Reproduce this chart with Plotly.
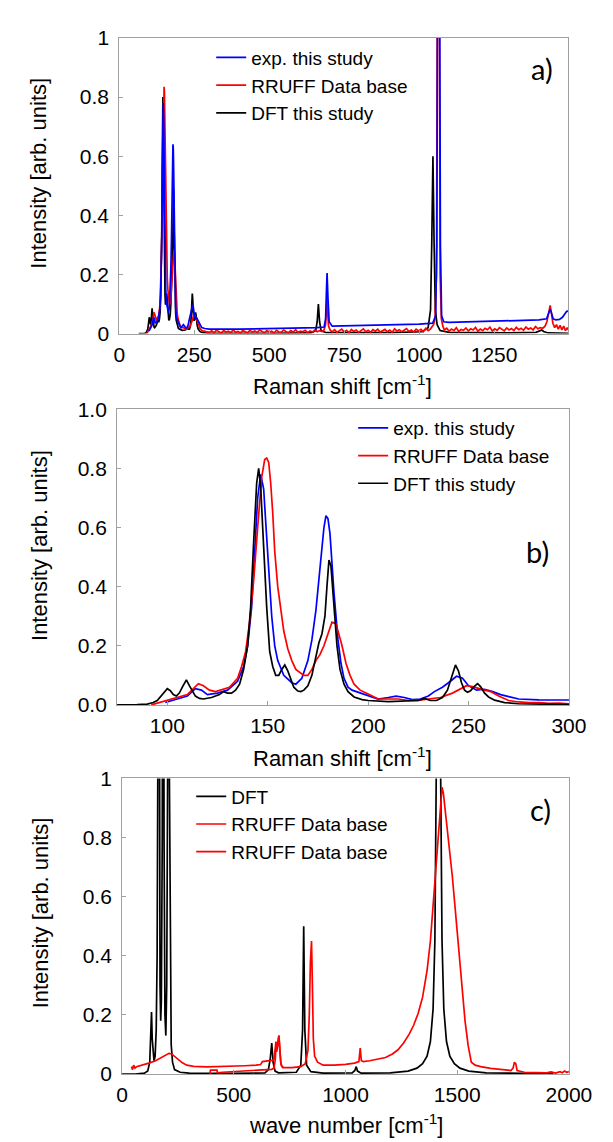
import plotly.graph_objects as go

# ---------------- data ----------------
# Panels a) and b): Raman shift [cm-1], intensity [arb. units]
exp_pts = [
    (99, 0.008), (105, 0.02), (110, 0.03), (114, 0.055), (117, 0.05), (120, 0.035),
    (125, 0.04), (130, 0.05), (135, 0.08), (138, 0.13), (140, 0.2), (142, 0.33),
    (143, 0.45), (144, 0.58), (145, 0.7), (146.5, 0.78), (148, 0.73), (149, 0.62),
    (150, 0.5), (151, 0.4), (152, 0.3), (153.5, 0.2), (155, 0.15), (158, 0.1),
    (162, 0.075), (164, 0.07), (167, 0.09), (170, 0.15), (172, 0.22), (174, 0.32),
    (176, 0.47), (178, 0.6), (179, 0.64), (180, 0.63), (181, 0.58), (182, 0.48),
    (183, 0.38), (185, 0.22), (186.5, 0.14), (188, 0.09), (190, 0.06), (192, 0.05),
    (196, 0.04), (200, 0.03), (205, 0.02), (210, 0.025), (214, 0.03), (218, 0.025),
    (222, 0.018), (226, 0.02), (230, 0.03), (233, 0.045), (237, 0.06), (241, 0.08),
    (244, 0.097), (247, 0.09), (250, 0.065), (254, 0.05), (258, 0.053), (262, 0.045),
    (266, 0.035), (270, 0.028), (275, 0.02), (285, 0.017), (300, 0.015), (400, 0.015),
    (500, 0.016), (600, 0.018), (660, 0.02), (683, 0.022), (688, 0.05), (691, 0.15),
    (693, 0.205), (696, 0.12), (700, 0.04), (710, 0.025), (800, 0.027), (900, 0.029),
    (1000, 0.032), (1045, 0.035), (1055, 0.06), (1059, 0.3), (1062, 1.3), (1068, 1.3),
    (1071, 0.3), (1075, 0.06), (1082, 0.04), (1100, 0.038), (1200, 0.04), (1300, 0.042),
    (1400, 0.046), (1425, 0.05), (1432, 0.07), (1437, 0.083), (1441, 0.07), (1447, 0.05),
    (1456, 0.046), (1468, 0.048), (1478, 0.055), (1486, 0.068), (1492, 0.075), (1498, 0.076),
]

rruff_pts = [
    (92, 0.0), (96, 0.008), (100, 0.015), (105, 0.025), (110, 0.035), (113, 0.055),
    (115.5, 0.072), (118, 0.065), (121, 0.05), (124, 0.045), (126, 0.05), (129, 0.055),
    (131, 0.06), (133, 0.075), (135, 0.09), (137, 0.13), (139, 0.18), (141, 0.28),
    (143, 0.42), (145, 0.6), (147, 0.77), (148.5, 0.83), (149.5, 0.835), (150.5, 0.82),
    (151.5, 0.75), (152.5, 0.65), (153.5, 0.52), (155, 0.4), (156.5, 0.32), (158, 0.25),
    (160, 0.19), (162, 0.15), (164, 0.12), (166, 0.11), (168, 0.1), (170, 0.1),
    (172, 0.12), (174, 0.15), (176, 0.17), (178, 0.2), (180, 0.24), (182, 0.28),
    (184, 0.275), (185.5, 0.24), (187, 0.2), (189, 0.14), (191, 0.1), (193, 0.07),
    (196, 0.05), (199, 0.04), (202, 0.03), (205, 0.02), (210, 0.02), (215, 0.02),
    (220, 0.015), (225, 0.015), (230, 0.02), (236, 0.025), (242, 0.04), (246, 0.055),
    (249, 0.065), (252, 0.062), (255, 0.055), (258, 0.05), (261, 0.045), (265, 0.03),
    (270, 0.015), (275, 0.01), (280, 0.008), (285, 0.008), (290, 0.005), (295, 0.006),
    (300, 0.004), (308, 0.009), (316, 0.003), (324, 0.011), (332, 0.006), (340, 0.002),
    (348, 0.010), (356, 0.005), (364, 0.008), (372, 0.003), (380, 0.012), (388, 0.004),
    (396, 0.007), (404, 0.002), (412, 0.010), (420, 0.006), (428, 0.003), (436, 0.011),
    (444, 0.005), (452, 0.009), (460, 0.004), (468, 0.012), (476, 0.006), (484, 0.003),
    (492, 0.010), (500, 0.005), (508, 0.008), (516, 0.002), (524, 0.011), (532, 0.006),
    (540, 0.004), (548, 0.012), (556, 0.007), (564, 0.003), (572, 0.010), (580, 0.005),
    (588, 0.013), (596, 0.004), (604, 0.008), (612, 0.006), (620, 0.011), (628, 0.003),
    (636, 0.009), (644, 0.005), (652, 0.012), (660, 0.006), (668, 0.010), (676, 0.007),
    (682, 0.01), (688, 0.03), (691, 0.08), (693, 0.12), (695, 0.07), (698, 0.025),
    (703, 0.012), (710, 0.006), (718, 0.013), (726, 0.004), (734, 0.010), (742, 0.015),
    (750, 0.005), (758, 0.011), (766, 0.003), (774, 0.014), (782, 0.007), (790, 0.012),
    (798, 0.004), (806, 0.009), (814, 0.016), (822, 0.006), (830, 0.011), (838, 0.004),
    (846, 0.013), (854, 0.008), (862, 0.015), (870, 0.005), (878, 0.010), (886, 0.014),
    (894, 0.006), (902, 0.012), (910, 0.004), (918, 0.016), (926, 0.009), (934, 0.013),
    (942, 0.006), (950, 0.011), (958, 0.017), (966, 0.007), (974, 0.012), (982, 0.005),
    (990, 0.015), (998, 0.009), (1006, 0.014), (1014, 0.006), (1022, 0.018), (1030, 0.010),
    (1038, 0.016), (1044, 0.025), (1048, 0.03), (1053, 0.05), (1058, 0.2), (1061, 1.3),
    (1067, 1.3), (1070, 0.2), (1074, 0.05), (1079, 0.025), (1084, 0.012), (1092, 0.018),
    (1100, 0.008), (1108, 0.015), (1116, 0.010), (1124, 0.020), (1132, 0.007), (1140, 0.014),
    (1148, 0.011), (1156, 0.019), (1164, 0.009), (1172, 0.016), (1180, 0.012), (1188, 0.021),
    (1196, 0.008), (1204, 0.015), (1212, 0.010), (1220, 0.018), (1228, 0.013), (1236, 0.022),
    (1244, 0.009), (1252, 0.016), (1260, 0.011), (1268, 0.020), (1276, 0.014), (1284, 0.009),
    (1292, 0.019), (1300, 0.012), (1308, 0.017), (1316, 0.010), (1324, 0.021), (1332, 0.013),
    (1340, 0.018), (1348, 0.011), (1356, 0.022), (1364, 0.015), (1372, 0.019), (1380, 0.012),
    (1388, 0.024), (1396, 0.016), (1404, 0.020), (1412, 0.018), (1420, 0.025), (1426, 0.04),
    (1432, 0.07), (1437, 0.095), (1441, 0.07), (1446, 0.035), (1452, 0.02), (1458, 0.03),
    (1464, 0.015), (1470, 0.028), (1476, 0.012), (1482, 0.025), (1488, 0.01), (1494, 0.02),
    (1498, 0.012),
]

dft_pts = [
    (65, 0.0), (75, 0.0), (85, 0.001), (90, 0.003), (93, 0.008), (95, 0.015), (97, 0.03),
    (98.5, 0.045), (100, 0.055), (101.5, 0.048), (103, 0.035), (104.5, 0.03), (106, 0.04),
    (107.5, 0.06), (109.5, 0.085), (111, 0.065), (112.5, 0.045), (114, 0.03), (116, 0.022),
    (118, 0.02), (122, 0.025), (126, 0.035), (128, 0.045), (130, 0.04), (132, 0.04),
    (134, 0.05), (136, 0.07), (138, 0.12), (140, 0.2), (141.5, 0.33), (143, 0.55),
    (144.5, 0.75), (145.5, 0.8), (146.5, 0.74), (147.5, 0.6), (148.5, 0.45), (149.5, 0.33),
    (151, 0.18), (152.5, 0.13), (154, 0.1), (155.5, 0.1), (157, 0.12), (158.5, 0.135),
    (160, 0.115), (161.5, 0.085), (163, 0.06), (165, 0.047), (166.5, 0.045), (168, 0.05),
    (170, 0.065), (172, 0.1), (174, 0.16), (175.5, 0.21), (177, 0.24), (178.5, 0.3),
    (179.5, 0.4), (180.5, 0.49), (181.5, 0.47), (182.5, 0.38), (183.5, 0.28), (184.5, 0.2),
    (186, 0.12), (188, 0.07), (190, 0.045), (193, 0.027), (197, 0.018), (200, 0.015),
    (210, 0.011), (220, 0.012), (225, 0.015), (228, 0.022), (231, 0.015), (234, 0.015),
    (237, 0.025), (239.5, 0.05), (241.5, 0.09), (243.5, 0.135), (245, 0.115), (246.5, 0.075),
    (248, 0.05), (249.5, 0.043), (251, 0.048), (252.5, 0.06), (254.5, 0.072), (256, 0.062),
    (258, 0.04), (260, 0.027), (263, 0.016), (268, 0.008), (275, 0.004), (285, 0.002),
    (300, 0.001), (500, 0.001), (640, 0.002), (655, 0.01), (660, 0.04), (664, 0.1),
    (668, 0.04), (673, 0.01), (690, 0.003), (900, 0.003), (1010, 0.006), (1030, 0.02),
    (1038, 0.08), (1042, 0.3), (1046, 0.6), (1050, 0.3), (1054, 0.08), (1060, 0.03),
    (1070, 0.01), (1100, 0.004), (1300, 0.002), (1390, 0.004), (1403, 0.008), (1409, 0.012),
    (1415, 0.007), (1430, 0.002), (1498, 0.001),
]

# Panel c): wave number [cm-1], intensity [arb. units]
dft_c_pts = [
    (0, 0.0), (60, 0.0), (100, 0.003), (115, 0.01), (124, 0.04), (129, 0.12), (132, 0.21),
    (135, 0.12), (139, 0.06), (143, 0.045), (148, 0.06), (153, 0.15), (157, 0.4),
    (160, 1.0), (163, 3.0), (166, 1.0), (170, 0.3), (173, 0.18), (176, 0.25), (180, 0.8),
    (184, 3.0), (188, 0.8), (192, 0.2), (196, 0.13), (200, 0.3), (204, 1.0), (208, 3.0),
    (212, 1.0), (216, 0.3), (220, 0.1), (226, 0.04), (235, 0.015), (260, 0.006),
    (300, 0.003), (500, 0.002), (640, 0.004), (655, 0.015), (663, 0.05), (670, 0.105),
    (676, 0.04), (685, 0.01), (700, 0.004), (780, 0.006), (800, 0.03), (808, 0.15),
    (813, 0.5), (818, 0.15), (826, 0.03), (845, 0.008), (900, 0.003), (1030, 0.004),
    (1042, 0.012), (1048, 0.025), (1054, 0.01), (1070, 0.003), (1200, 0.004), (1280, 0.01),
    (1320, 0.02), (1345, 0.035), (1365, 0.06), (1380, 0.11), (1392, 0.22), (1400, 0.45),
    (1406, 1.0), (1411, 2.0), (1416, 3.0), (1421, 2.0), (1426, 1.0), (1432, 0.45),
    (1440, 0.22), (1452, 0.11), (1467, 0.06), (1487, 0.035), (1512, 0.02), (1552, 0.01),
    (1630, 0.004), (1800, 0.002), (1930, 0.001),
]

rruff1_c_pts = [
    (42, 0.025), (47, 0.015), (52, 0.03), (58, 0.02), (65, 0.025), (90, 0.03),
    (120, 0.037), (150, 0.045), (175, 0.055), (195, 0.065), (210, 0.07), (222, 0.068),
    (235, 0.06), (250, 0.048), (270, 0.038), (290, 0.03), (320, 0.026), (380, 0.024),
    (450, 0.025), (500, 0.026), (550, 0.028), (600, 0.03), (620, 0.032), (628, 0.042),
    (650, 0.044), (670, 0.046), (680, 0.05), (686, 0.09), (689, 0.11), (692, 0.08),
    (697, 0.1), (702, 0.13), (706, 0.09), (710, 0.04), (716, 0.025), (722, 0.022),
]

rruff2_c_pts = [
    (393, 0.0), (396, 0.013), (425, 0.013), (427, 0.004), (450, 0.006), (500, 0.008),
    (550, 0.01), (600, 0.012), (650, 0.014), (670, 0.016), (680, 0.02), (686, 0.05),
    (689, 0.1), (692, 0.075), (697, 0.1), (702, 0.13), (706, 0.08), (712, 0.03),
    (720, 0.022), (760, 0.022), (800, 0.025), (820, 0.035), (832, 0.08), (838, 0.2),
    (843, 0.38), (848, 0.45), (852, 0.3), (856, 0.12), (862, 0.06), (875, 0.04),
    (900, 0.03), (950, 0.03), (1000, 0.033), (1040, 0.037), (1060, 0.042), (1066, 0.088),
    (1071, 0.045), (1080, 0.042), (1108, 0.045), (1150, 0.05), (1179, 0.056),
    (1210, 0.068), (1235, 0.082), (1260, 0.105), (1285, 0.135), (1305, 0.165),
    (1325, 0.205), (1345, 0.26), (1365, 0.35), (1380, 0.45), (1392, 0.57), (1406, 0.74),
    (1420, 0.88), (1428, 0.95), (1432, 0.97), (1438, 0.95), (1450, 0.87), (1463, 0.79),
    (1478, 0.67), (1492, 0.55), (1506, 0.42), (1520, 0.3), (1535, 0.18), (1549, 0.096),
    (1563, 0.04), (1580, 0.03), (1605, 0.025), (1650, 0.019), (1705, 0.015), (1740, 0.012),
    (1750, 0.02), (1756, 0.04), (1762, 0.035), (1768, 0.012), (1800, 0.006), (1850, 0.005),
    (1900, 0.004), (1920, 0.007), (1940, 0.003), (1960, 0.008), (1970, 0.004),
    (1980, 0.01), (1990, 0.006), (2000, 0.008),
]

names_ab = ["exp. this study", "RRUFF Data base", "DFT this study"]
names_c = ["DFT", "RRUFF Data base", "RRUFF Data base"]
xticks_a = [0, 250, 500, 750, 1000, 1250]
xticks_b = [100, 150, 200, 250, 300]
xticks_c = [0, 500, 1000, 1500, 2000]
yticks = [0, 0.2, 0.4, 0.6, 0.8, 1.0]
ylabels_ac = ["0", "0.2", "0.4", "0.6", "0.8", "1"]
ylabels_b = ["0.0", "0.2", "0.4", "0.6", "0.8", "1.0"]
panel_tags = ["a)", "b)", "c)"]


def xy(pts):
    return [p[0] for p in pts], [p[1] for p in pts]


BLUE, RED, BLACK = "#0000ff", "#ff0000", "#000000"
W, H = 613, 1142
LW = 1.7

fig = go.Figure()

# panel a (DFT drawn first, exp on top; legend order kept with legendrank)
for pts, col, nm, rk in [(dft_pts, BLACK, names_ab[2], 3), (rruff_pts, RED, names_ab[1], 2),
                         (exp_pts, BLUE, names_ab[0], 1)]:
    x, y = xy(pts)
    fig.add_trace(go.Scatter(x=x, y=y, mode="lines", name=nm, line=dict(color=col, width=LW),
                             xaxis="x", yaxis="y", legend="legend", legendrank=rk))
# panel b
for pts, col, nm in [(exp_pts, BLUE, names_ab[0]), (rruff_pts, RED, names_ab[1]), (dft_pts, BLACK, names_ab[2])]:
    x, y = xy(pts)
    fig.add_trace(go.Scatter(x=x, y=y, mode="lines", name=nm, line=dict(color=col, width=LW),
                             xaxis="x2", yaxis="y2", legend="legend2"))
# panel c
for pts, col, nm in [(dft_c_pts, BLACK, names_c[0]), (rruff1_c_pts, RED, names_c[1]), (rruff2_c_pts, RED, names_c[2])]:
    x, y = xy(pts)
    fig.add_trace(go.Scatter(x=x, y=y, mode="lines", name=nm, line=dict(color=col, width=LW),
                             xaxis="x3", yaxis="y3", legend="legend3"))

FONT = "Liberation Sans, Arial, sans-serif"
axis_common = dict(showline=True, mirror=True, linecolor="#a0a0a0", linewidth=1,
                   ticks="inside", ticklen=4, tickcolor="#a0a0a0", showgrid=False,
                   zeroline=False, tickfont=dict(family=FONT, size=21, color="black"))
xaxis_extra = dict(ticklabelstandoff=2)
yaxis_extra = dict(ticklabelstandoff=5)


def px_x(v):
    return v / W


def px_y(v):
    return 1 - v / H


fig.update_layout(
    width=W, height=H, autosize=False,
    margin=dict(l=0, r=0, t=0, b=0),
    paper_bgcolor="white", plot_bgcolor="white",
    xaxis=dict(domain=[px_x(110.5), px_x(582)], range=[0, 1498], tickvals=xticks_a,
               anchor="y", **axis_common, **xaxis_extra),
    yaxis=dict(domain=[px_y(320), px_y(18.3)], range=[0, 1], tickvals=yticks,
               ticktext=ylabels_ac, anchor="x", **axis_common, **yaxis_extra),
    xaxis2=dict(domain=[px_x(108.2), px_x(582.5)], range=[75, 300], tickvals=xticks_b,
                anchor="y2", **axis_common, **xaxis_extra),
    yaxis2=dict(domain=[px_y(699), px_y(397.3)], range=[0, 1], tickvals=yticks,
                ticktext=ylabels_b, anchor="x2", **axis_common, **yaxis_extra),
    xaxis3=dict(domain=[px_x(113.4), px_x(582.5)], range=[0, 2000], tickvals=xticks_c,
                anchor="y3", **axis_common, **xaxis_extra),
    yaxis3=dict(domain=[px_y(1075.7), px_y(774)], range=[0, 1], tickvals=yticks,
                ticktext=ylabels_ac, anchor="x3", **axis_common, **yaxis_extra),
    legend=dict(x=px_x(207), y=px_y(19), xanchor="left", yanchor="top",
                bgcolor="rgba(0,0,0,0)", font=dict(family=FONT, size=19, color="black"),
                tracegroupgap=0, itemwidth=30),
    legend2=dict(x=px_x(356), y=px_y(397), xanchor="left", yanchor="top",
                 bgcolor="rgba(0,0,0,0)", font=dict(family=FONT, size=19, color="black"),
                 tracegroupgap=0, itemwidth=30),
    legend3=dict(x=px_x(186), y=px_y(773), xanchor="left", yanchor="top",
                 bgcolor="rgba(0,0,0,0)", font=dict(family=FONT, size=19, color="black"),
                 tracegroupgap=0, itemwidth=30),
)

ann = []
title_font = dict(family=FONT, size=22, color="black")
xtitle = "Raman shift [cm<sup>-1</sup>]"
for (xc, yc, txt) in [(345, 372, xtitle), (345, 752, xtitle), (348, 1127, "wave number [cm<sup>-1</sup>]")]:
    ann.append(dict(x=px_x(xc), y=px_y(yc), xref="paper", yref="paper", text=txt,
                    showarrow=False, font=title_font, xanchor="center", yanchor="middle"))
for (xc, yc) in [(26, 156), (26, 536), (27.5, 911.5)]:
    ann.append(dict(x=px_x(xc), y=px_y(yc), xref="paper", yref="paper",
                    text="Intensity [arb. units]", textangle=-90, showarrow=False,
                    font=title_font, xanchor="center", yanchor="middle"))
for tag, (xc, yc) in zip(panel_tags, [(554, 50), (550, 542), (553, 806)]):
    ann.append(dict(x=px_x(xc), y=px_y(yc), xref="paper", yref="paper", text=tag,
                    showarrow=False, font=dict(family="Lato, Open Sans, sans-serif", size=29, color="black"),
                    xanchor="center", yanchor="middle"))
fig.update_layout(annotations=ann)

fig.write_html("out.html")
